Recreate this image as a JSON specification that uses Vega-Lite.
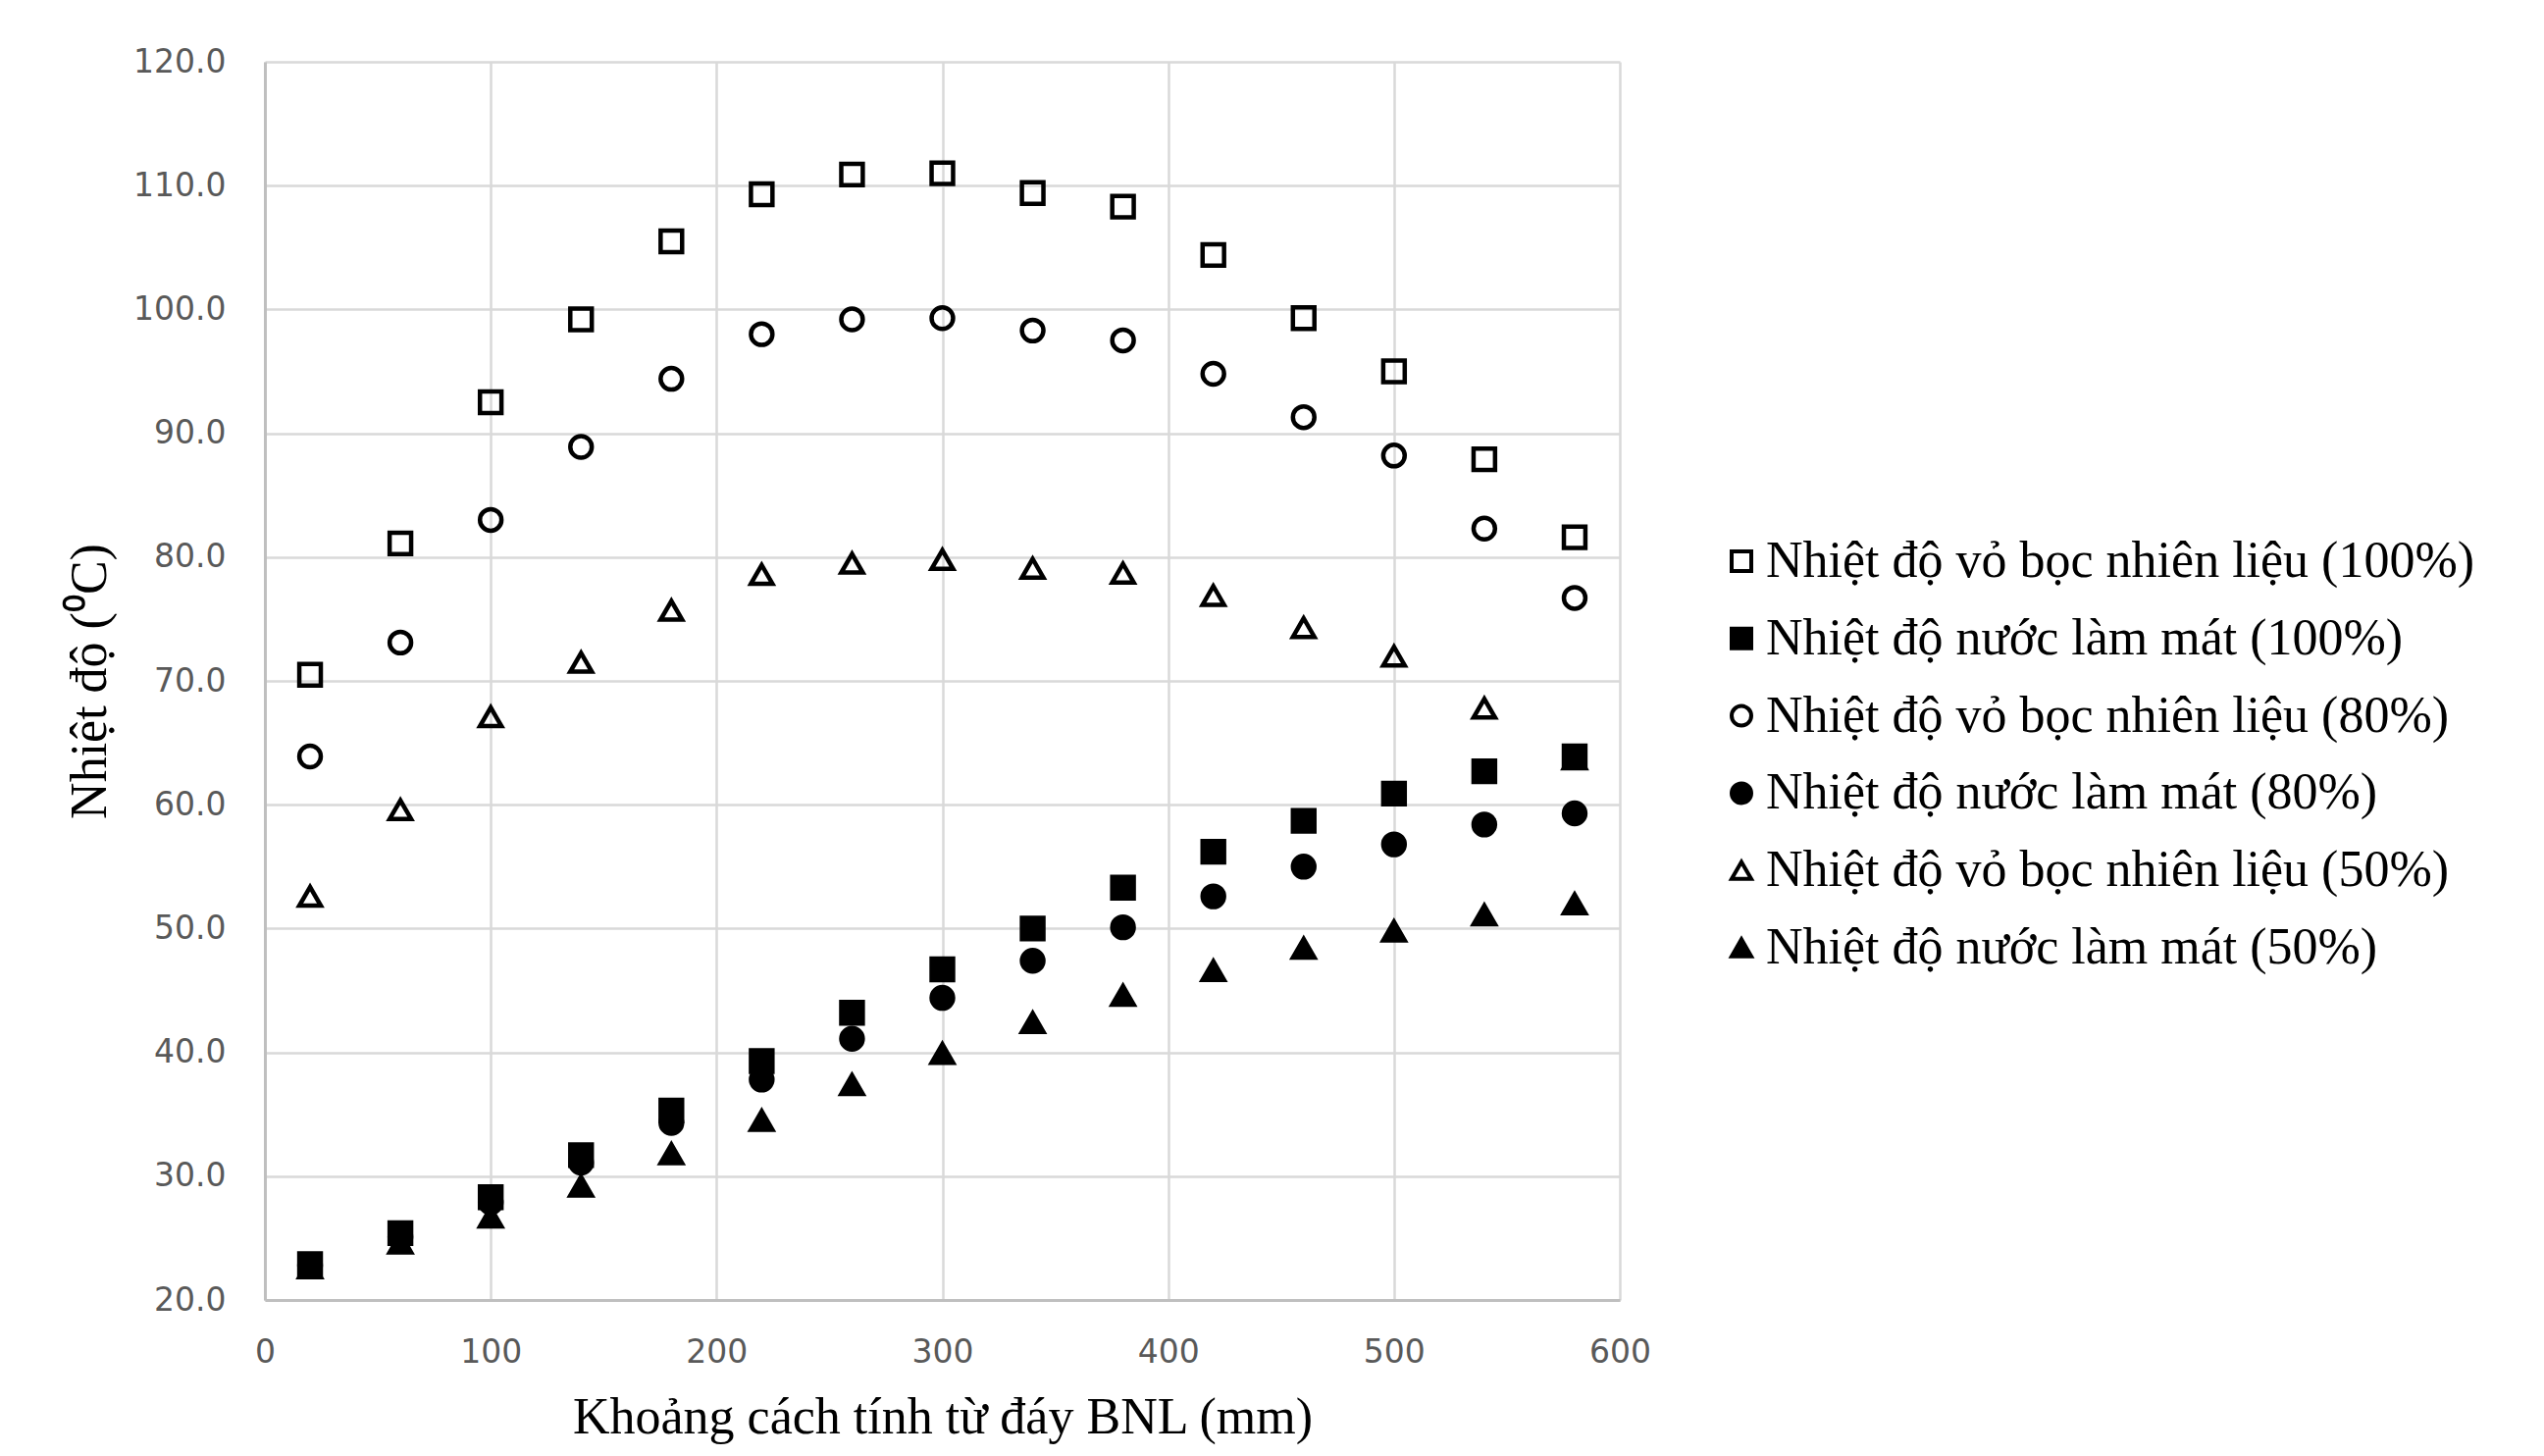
{
  "$schema": "https://vega.github.io/schema/vega-lite/v6.json",
  "autosize": "none",
  "width": 1381,
  "height": 1262,
  "padding": {"left": 270, "top": 63, "right": 942, "bottom": 159},
  "background": "white",
  "datasets": {
    "pts": [
      {"series": "Nhiệt độ vỏ bọc nhiên liệu (100%)", "x": 20, "y": 70.5},
      {"series": "Nhiệt độ vỏ bọc nhiên liệu (100%)", "x": 60, "y": 81.1},
      {"series": "Nhiệt độ vỏ bọc nhiên liệu (100%)", "x": 100, "y": 92.5},
      {"series": "Nhiệt độ vỏ bọc nhiên liệu (100%)", "x": 140, "y": 99.2},
      {"series": "Nhiệt độ vỏ bọc nhiên liệu (100%)", "x": 180, "y": 105.5},
      {"series": "Nhiệt độ vỏ bọc nhiên liệu (100%)", "x": 220, "y": 109.3},
      {"series": "Nhiệt độ vỏ bọc nhiên liệu (100%)", "x": 260, "y": 110.9},
      {"series": "Nhiệt độ vỏ bọc nhiên liệu (100%)", "x": 300, "y": 111.0},
      {"series": "Nhiệt độ vỏ bọc nhiên liệu (100%)", "x": 340, "y": 109.4},
      {"series": "Nhiệt độ vỏ bọc nhiên liệu (100%)", "x": 380, "y": 108.3},
      {"series": "Nhiệt độ vỏ bọc nhiên liệu (100%)", "x": 420, "y": 104.4},
      {"series": "Nhiệt độ vỏ bọc nhiên liệu (100%)", "x": 460, "y": 99.3},
      {"series": "Nhiệt độ vỏ bọc nhiên liệu (100%)", "x": 500, "y": 95.0},
      {"series": "Nhiệt độ vỏ bọc nhiên liệu (100%)", "x": 540, "y": 87.9},
      {"series": "Nhiệt độ vỏ bọc nhiên liệu (100%)", "x": 580, "y": 81.6},
      {"series": "Nhiệt độ nước làm mát (100%)", "x": 20, "y": 22.9},
      {"series": "Nhiệt độ nước làm mát (100%)", "x": 60, "y": 25.4},
      {"series": "Nhiệt độ nước làm mát (100%)", "x": 100, "y": 28.3},
      {"series": "Nhiệt độ nước làm mát (100%)", "x": 140, "y": 31.7},
      {"series": "Nhiệt độ nước làm mát (100%)", "x": 180, "y": 35.3},
      {"series": "Nhiệt độ nước làm mát (100%)", "x": 220, "y": 39.3},
      {"series": "Nhiệt độ nước làm mát (100%)", "x": 260, "y": 43.2},
      {"series": "Nhiệt độ nước làm mát (100%)", "x": 300, "y": 46.7},
      {"series": "Nhiệt độ nước làm mát (100%)", "x": 340, "y": 50.0},
      {"series": "Nhiệt độ nước làm mát (100%)", "x": 380, "y": 53.3},
      {"series": "Nhiệt độ nước làm mát (100%)", "x": 420, "y": 56.2},
      {"series": "Nhiệt độ nước làm mát (100%)", "x": 460, "y": 58.7},
      {"series": "Nhiệt độ nước làm mát (100%)", "x": 500, "y": 60.9},
      {"series": "Nhiệt độ nước làm mát (100%)", "x": 540, "y": 62.7},
      {"series": "Nhiệt độ nước làm mát (100%)", "x": 580, "y": 63.9},
      {"series": "Nhiệt độ vỏ bọc nhiên liệu (80%)", "x": 20, "y": 63.9},
      {"series": "Nhiệt độ vỏ bọc nhiên liệu (80%)", "x": 60, "y": 73.1},
      {"series": "Nhiệt độ vỏ bọc nhiên liệu (80%)", "x": 100, "y": 83.0},
      {"series": "Nhiệt độ vỏ bọc nhiên liệu (80%)", "x": 140, "y": 88.9},
      {"series": "Nhiệt độ vỏ bọc nhiên liệu (80%)", "x": 180, "y": 94.4},
      {"series": "Nhiệt độ vỏ bọc nhiên liệu (80%)", "x": 220, "y": 98.0},
      {"series": "Nhiệt độ vỏ bọc nhiên liệu (80%)", "x": 260, "y": 99.2},
      {"series": "Nhiệt độ vỏ bọc nhiên liệu (80%)", "x": 300, "y": 99.3},
      {"series": "Nhiệt độ vỏ bọc nhiên liệu (80%)", "x": 340, "y": 98.3},
      {"series": "Nhiệt độ vỏ bọc nhiên liệu (80%)", "x": 380, "y": 97.5},
      {"series": "Nhiệt độ vỏ bọc nhiên liệu (80%)", "x": 420, "y": 94.8},
      {"series": "Nhiệt độ vỏ bọc nhiên liệu (80%)", "x": 460, "y": 91.3},
      {"series": "Nhiệt độ vỏ bọc nhiên liệu (80%)", "x": 500, "y": 88.2},
      {"series": "Nhiệt độ vỏ bọc nhiên liệu (80%)", "x": 540, "y": 82.3},
      {"series": "Nhiệt độ vỏ bọc nhiên liệu (80%)", "x": 580, "y": 76.7},
      {"series": "Nhiệt độ nước làm mát (80%)", "x": 20, "y": 22.8},
      {"series": "Nhiệt độ nước làm mát (80%)", "x": 60, "y": 25.1},
      {"series": "Nhiệt độ nước làm mát (80%)", "x": 100, "y": 27.9},
      {"series": "Nhiệt độ nước làm mát (80%)", "x": 140, "y": 31.1},
      {"series": "Nhiệt độ nước làm mát (80%)", "x": 180, "y": 34.3},
      {"series": "Nhiệt độ nước làm mát (80%)", "x": 220, "y": 37.8},
      {"series": "Nhiệt độ nước làm mát (80%)", "x": 260, "y": 41.1},
      {"series": "Nhiệt độ nước làm mát (80%)", "x": 300, "y": 44.4},
      {"series": "Nhiệt độ nước làm mát (80%)", "x": 340, "y": 47.4},
      {"series": "Nhiệt độ nước làm mát (80%)", "x": 380, "y": 50.1},
      {"series": "Nhiệt độ nước làm mát (80%)", "x": 420, "y": 52.6},
      {"series": "Nhiệt độ nước làm mát (80%)", "x": 460, "y": 55.0},
      {"series": "Nhiệt độ nước làm mát (80%)", "x": 500, "y": 56.8},
      {"series": "Nhiệt độ nước làm mát (80%)", "x": 540, "y": 58.4},
      {"series": "Nhiệt độ nước làm mát (80%)", "x": 580, "y": 59.3},
      {"series": "Nhiệt độ vỏ bọc nhiên liệu (50%)", "x": 20, "y": 52.6},
      {"series": "Nhiệt độ vỏ bọc nhiên liệu (50%)", "x": 60, "y": 59.6},
      {"series": "Nhiệt độ vỏ bọc nhiên liệu (50%)", "x": 100, "y": 67.1},
      {"series": "Nhiệt độ vỏ bọc nhiên liệu (50%)", "x": 140, "y": 71.5},
      {"series": "Nhiệt độ vỏ bọc nhiên liệu (50%)", "x": 180, "y": 75.7},
      {"series": "Nhiệt độ vỏ bọc nhiên liệu (50%)", "x": 220, "y": 78.6},
      {"series": "Nhiệt độ vỏ bọc nhiên liệu (50%)", "x": 260, "y": 79.5},
      {"series": "Nhiệt độ vỏ bọc nhiên liệu (50%)", "x": 300, "y": 79.8},
      {"series": "Nhiệt độ vỏ bọc nhiên liệu (50%)", "x": 340, "y": 79.1},
      {"series": "Nhiệt độ vỏ bọc nhiên liệu (50%)", "x": 380, "y": 78.7},
      {"series": "Nhiệt độ vỏ bọc nhiên liệu (50%)", "x": 420, "y": 76.9},
      {"series": "Nhiệt độ vỏ bọc nhiên liệu (50%)", "x": 460, "y": 74.3},
      {"series": "Nhiệt độ vỏ bọc nhiên liệu (50%)", "x": 500, "y": 72.0},
      {"series": "Nhiệt độ vỏ bọc nhiên liệu (50%)", "x": 540, "y": 67.8},
      {"series": "Nhiệt độ vỏ bọc nhiên liệu (50%)", "x": 580, "y": 63.7},
      {"series": "Nhiệt độ nước làm mát (50%)", "x": 20, "y": 22.6},
      {"series": "Nhiệt độ nước làm mát (50%)", "x": 60, "y": 24.6},
      {"series": "Nhiệt độ nước làm mát (50%)", "x": 100, "y": 26.7},
      {"series": "Nhiệt độ nước làm mát (50%)", "x": 140, "y": 29.2},
      {"series": "Nhiệt độ nước làm mát (50%)", "x": 180, "y": 31.8},
      {"series": "Nhiệt độ nước làm mát (50%)", "x": 220, "y": 34.5},
      {"series": "Nhiệt độ nước làm mát (50%)", "x": 260, "y": 37.4},
      {"series": "Nhiệt độ nước làm mát (50%)", "x": 300, "y": 39.9},
      {"series": "Nhiệt độ nước làm mát (50%)", "x": 340, "y": 42.4},
      {"series": "Nhiệt độ nước làm mát (50%)", "x": 380, "y": 44.6},
      {"series": "Nhiệt độ nước làm mát (50%)", "x": 420, "y": 46.6},
      {"series": "Nhiệt độ nước làm mát (50%)", "x": 460, "y": 48.4},
      {"series": "Nhiệt độ nước làm mát (50%)", "x": 500, "y": 49.8},
      {"series": "Nhiệt độ nước làm mát (50%)", "x": 540, "y": 51.1},
      {"series": "Nhiệt độ nước làm mát (50%)", "x": 580, "y": 52.0}
    ]
  },
  "data": {"name": "pts"},
  "mark": {"type": "point", "filled": true, "stroke": "black", "strokeWidth": 4.5, "size": 480, "opacity": 1},
  "encoding": {
    "x": {
      "field": "x", "type": "quantitative",
      "scale": {"domain": [0, 600], "nice": false, "zero": false},
      "axis": {
        "values": [0, 100, 200, 300, 400, 500, 600],
        "title": "Khoảng cách tính từ đáy BNL (mm)",
        "titleY": 119, "titleBaseline": "middle", "titleAnchor": "middle",
        "labelPadding": 37,
        "labelFlush": false,
        "labelOverlap": false
      }
    },
    "y": {
      "field": "y", "type": "quantitative",
      "scale": {"domain": [20, 120], "nice": false, "zero": false},
      "axis": {
        "values": [20, 30, 40, 50, 60, 70, 80, 90, 100, 110, 120],
        "format": ".1f",
        "title": "Nhiệt độ (⁰C)",
        "titleX": -179, "titleY": 631, "titleAngle": -90, "titleBaseline": "middle", "titleAlign": "center",
        "labelPadding": 40,
        "labelFlush": false,
        "labelOverlap": false
      }
    },
    "shape": {
      "field": "series", "type": "nominal",
      "scale": {
        "domain": ["Nhiệt độ vỏ bọc nhiên liệu (100%)", "Nhiệt độ nước làm mát (100%)", "Nhiệt độ vỏ bọc nhiên liệu (80%)", "Nhiệt độ nước làm mát (80%)", "Nhiệt độ vỏ bọc nhiên liệu (50%)", "Nhiệt độ nước làm mát (50%)"],
        "range": ["square", "square", "circle", "circle", "triangle-up", "triangle-up"]
      },
      "legend": {"title": null}
    },
    "color": {
      "field": "series", "type": "nominal",
      "scale": {
        "domain": ["Nhiệt độ vỏ bọc nhiên liệu (100%)", "Nhiệt độ nước làm mát (100%)", "Nhiệt độ vỏ bọc nhiên liệu (80%)", "Nhiệt độ nước làm mát (80%)", "Nhiệt độ vỏ bọc nhiên liệu (50%)", "Nhiệt độ nước làm mát (50%)"],
        "range": ["transparent", "black", "transparent", "black", "transparent", "black"]
      },
      "legend": {"title": null}
    }
  },
  "config": {
    "view": {"stroke": null},
    "axis": {
      "grid": true,
      "gridColor": "#D9D9D9",
      "gridWidth": 2.5,
      "gridOpacity": 1,
      "domainColor": "#BFBFBF",
      "domainWidth": 3,
      "ticks": false,
      "labelFont": "DejaVu Sans",
      "labelFontSize": 33,
      "labelColor": "#595959",
      "titleFont": "Liberation Serif",
      "titleFontSize": 52,
      "titleFontWeight": "normal",
      "titleColor": "black"
    },
    "legend": {
      "orient": "none",
      "legendX": 1479,
      "legendY": 483,
      "padding": 0,
      "labelFont": "Liberation Serif",
      "labelFontSize": 52,
      "labelColor": "black",
      "labelLimit": 1000,
      "labelOffset": -1,
      "rowPadding": 26.8,
      "symbolSize": 400,
      "symbolStrokeColor": "black",
      "symbolStrokeWidth": 4
    }
  }
}
